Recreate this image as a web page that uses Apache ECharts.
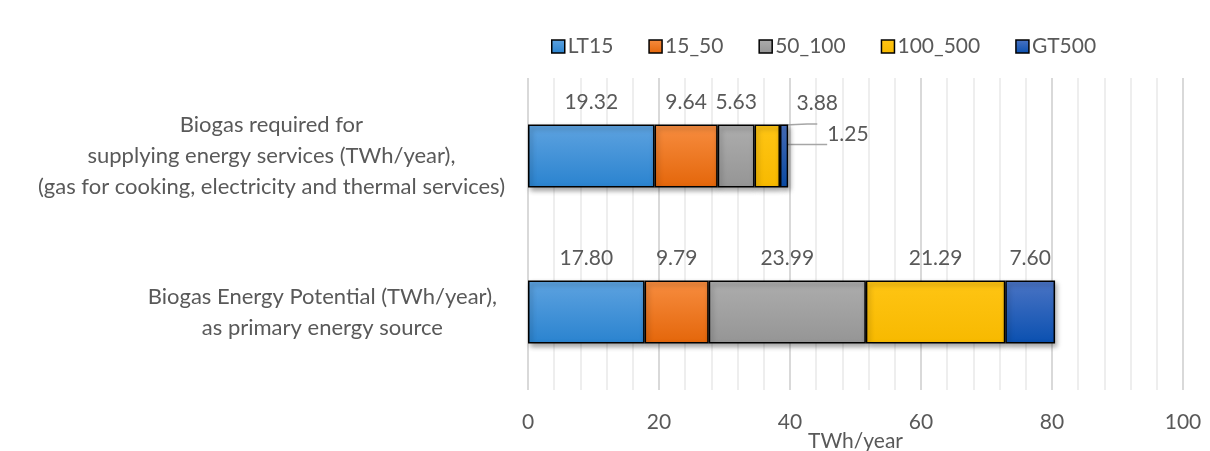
<!DOCTYPE html>
<html>
<head>
<meta charset="utf-8">
<script src="https://cdn.jsdelivr.net/npm/echarts@6/dist/echarts.min.js"></script>
<style>
  html, body { margin: 0; padding: 0; background: #fff; }
  #chart { width: 1210px; height: 451px; }
</style>
</head>
<body>
<div id="chart"></div>
<script>
const categories = [
  'Biogas required for\nsupplying energy services (TWh/year),\n(gas for cooking, electricity and thermal services)',
  'Biogas Energy Potential (TWh/year),\nas primary energy source'
]
const seriesNames = ['LT15', '15_50', '50_100', '100_500', 'GT500']
const lt15 = [19.32, 17.80]
const s15_50 = [9.64, 9.79]
const s50_100 = [5.63, 23.99]
const s100_500 = [3.88, 21.29]
const gt500 = [1.25, 7.60]
const xTicks = [0, 20, 40, 60, 80, 100]

const FONT = 'Lato, "Open Sans", sans-serif'
const TEXT = '#595959'
const FS = 21

// top/bottom colour of each segment (Excel style gradient)
const colors = [
  ['#5ea3e0', '#2a83cf'],
  ['#f78d40', '#e4660a'],
  ['#adadad', '#959595'],
  ['#ffc514', '#f7b900'],
  ['#4b74c4', '#0a50b0']
]

const grad = (c) => new echarts.graphic.LinearGradient(0, 0, 0, 1, [
  { offset: 0, color: c[0] }, { offset: 1, color: c[1] }
])

// labels of the two thin segments sit outside with a leader line
const outLabel = {
  '100_500': { 0: { position: 'top', offset: [50, 1] } },
  'GT500': { 0: { position: 'right', offset: [27, -22] } }
}

const allData = [lt15, s15_50, s50_100, s100_500, gt500]

const chart = echarts.init(document.getElementById('chart'))

const series = seriesNames.map((name, i) => ({
  name: name,
  type: 'bar',
  stack: 'total',
  barWidth: 63,
  itemStyle: {
    color: grad(colors[i]),
    borderColor: '#000',
    borderWidth: 1.5,
    shadowColor: 'rgba(0,0,0,0.35)',
    shadowBlur: 5,
    shadowOffsetX: 2,
    shadowOffsetY: 3
  },
  label: {
    show: true,
    position: 'top',
    distance: 12,
    color: TEXT,
    fontFamily: FONT,
    fontSize: FS,
    formatter: (p) => p.value.toFixed(2)
  },
  labelLine: {
    lineStyle: { color: '#a6a6a6', width: 1.5 }
  },
  data: allData[i].map((v, j) => {
    const lab = outLabel[name] && outLabel[name][j]
    if (!lab) return v
    return {
      value: v,
      label: lab,
      labelLine: { show: true, length2: 10 }
    }
  })
}))

const catStyle = { align: 'center', color: TEXT, fontFamily: FONT, fontSize: 22, lineHeight: 31 }

chart.setOption({
  backgroundColor: '#fff',
  animation: false,
  textStyle: { fontFamily: FONT },
  legend: {
    top: 31,
    left: 546,
    itemWidth: 13,
    itemHeight: 13,
    itemGap: 35,
    icon: 'rect',
    textStyle: { color: TEXT, fontSize: FS, fontFamily: FONT, padding: [0, 0, 0, -2] },
    itemStyle: { borderColor: '#000', borderWidth: 1.5, shadowBlur: 0, shadowOffsetX: 0, shadowOffsetY: 0 },
    data: seriesNames
  },
  grid: { left: 528, right: 27, top: 78, bottom: 61, outerBoundsMode: 'none' },
  xAxis: {
    type: 'value',
    min: xTicks[0],
    max: xTicks[xTicks.length - 1],
    interval: 20,
    name: 'TWh/year',
    nameLocation: 'middle',
    nameGap: 41,
    nameMoveOverlap: false,
    nameTextStyle: { color: TEXT, fontSize: FS, fontFamily: FONT },
    axisLine: { show: false },
    axisTick: { show: false },
    axisLabel: { color: TEXT, fontSize: FS, fontFamily: FONT, margin: 22 },
    splitLine: { show: true, lineStyle: { color: '#d9d9d9', width: 2 } },
    minorTick: { show: false, splitNumber: 5 },
    minorSplitLine: { show: true, lineStyle: { color: '#eeeeee', width: 2 } }
  },
  yAxis: {
    type: 'category',
    inverse: true,
    data: categories,
    axisLine: { show: false },
    axisTick: { show: false },
    axisLabel: {
      align: 'right',
      margin: 23,
      color: TEXT,
      fontFamily: FONT,
      fontSize: 22,
      lineHeight: 31,
      // lines centred inside a right-anchored block
      formatter: (v, idx) => v.split('\n').map(s => '{' + (idx === 0 ? 'a' : 'b') + '|' + s + '}').join('\n'),
      rich: {
        a: catStyle,
        b: Object.assign({}, catStyle, { padding: [0, 8, 0, 0] })
      }
    }
  },
  series: series
})
</script>
</body>
</html>
